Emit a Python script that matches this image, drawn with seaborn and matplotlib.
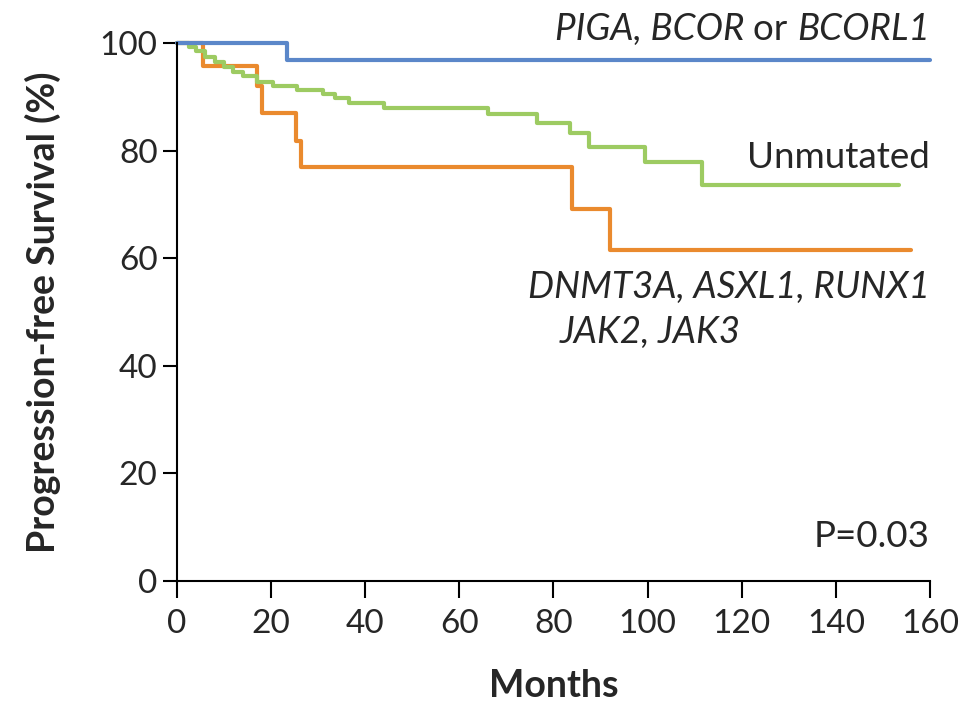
import pandas as pd
import numpy as np
import matplotlib
matplotlib.use("Agg")
import matplotlib.pyplot as plt
import seaborn as sns

# ---- 数据 ----
GROUPS = ["PIGA/BCOR/BCORL1", "Unmutated", "DNMT3A/ASXL1/RUNX1/JAK2/JAK3"]

months_piga = [0, 23.3, 160]
surv_piga = [100, 96.8, 96.8]

months_unmut = [0, 2.5, 4, 6, 8, 10, 12, 14, 17, 20.5, 25.5, 31, 33.5, 36.5,
                44, 66, 76.5, 83.5, 87.5, 99.5, 111.5, 153.5]
surv_unmut = [100, 99.3, 98.5, 97.4, 96.5, 95.6, 94.6, 93.8, 92.8, 92.0, 91.3,
              90.5, 89.7, 88.8, 88.0, 86.8, 85.1, 83.2, 80.7, 77.8, 73.6, 73.6]

months_mut = [0, 5.5, 17, 18, 25.3, 26.3, 84, 92, 156]
surv_mut = [100, 95.8, 92.0, 87.0, 81.8, 77.0, 69.2, 61.5, 61.5]

COLORS = ["#5b87c9", "#9dcb62", "#ea8a2e"]

x_ticks = [0, 20, 40, 60, 80, 100, 120, 140, 160]
y_ticks = [0, 20, 40, 60, 80, 100]

df = pd.concat([
    pd.DataFrame({"Months": months_piga, "PFS": surv_piga, "group": GROUPS[0]}),
    pd.DataFrame({"Months": months_unmut, "PFS": surv_unmut, "group": GROUPS[1]}),
    pd.DataFrame({"Months": months_mut, "PFS": surv_mut, "group": GROUPS[2]}),
], ignore_index=True)

sns.set_style("ticks")
plt.rcParams['font.family'] = ['Lato', 'DejaVu Sans']

fig = plt.figure(figsize=(9.65, 7.14), dpi=100)
ax = fig.add_axes([0.1834, 0.1863, 0.9637 - 0.1834, 0.9398 - 0.1863])

# 先画下面的曲线, 蓝线在最上
for g in [GROUPS[2], GROUPS[1], GROUPS[0]]:
    sub = df[df["group"] == g]
    sns.lineplot(data=sub, x="Months", y="PFS", ax=ax, color=COLORS[GROUPS.index(g)],
                 drawstyle="steps-post", estimator=None, sort=False,
                 linewidth=3.0, clip_on=False, legend=False)

ax.set_xlim(0, 160)
ax.set_ylim(0, 100)
ax.set_xticks(x_ticks)
ax.set_yticks(y_ticks)
ax.tick_params(axis="both", direction="out", width=1.5, labelsize=24, color="black")
ax.tick_params(axis="x", length=12, pad=8)
ax.tick_params(axis="y", length=10, pad=4)
for s in ["top", "right"]:
    ax.spines[s].set_visible(False)
for s in ["left", "bottom"]:
    ax.spines[s].set_linewidth(1.5)
    ax.spines[s].set_color("black")

ax.set_xlabel("Months", fontsize=27, fontweight="bold", labelpad=22)
ax.set_ylabel("Progression-free Survival (%)", fontsize=27, fontweight="bold", labelpad=28)

# ---- 标注 ----
fs = 26.5
t1 = ax.text(160, 102.5, "BCORL1", fontsize=fs, style="italic", ha="right", va="center")
t2 = ax.annotate("or ", xy=(0, 0), xycoords=t1, ha="right", va="bottom", fontsize=fs)
t3 = ax.annotate("PIGA, BCOR ", xy=(0, 0), xycoords=t2, ha="right", va="bottom",
                 fontsize=fs, style="italic")
ax.text(160, 78.8, "Unmutated", fontsize=fs, ha="right", va="center")
ax.text(160, 54.5, "DNMT3A, ASXL1, RUNX1", fontsize=fs, style="italic", ha="right", va="center")
ax.text(81.4, 46.1, "JAK2, JAK3", fontsize=fs, style="italic", ha="left", va="center")
ax.text(160, 8.2, "P=0.03", fontsize=fs, ha="right", va="center")

fig.savefig("out.png", dpi=100)
